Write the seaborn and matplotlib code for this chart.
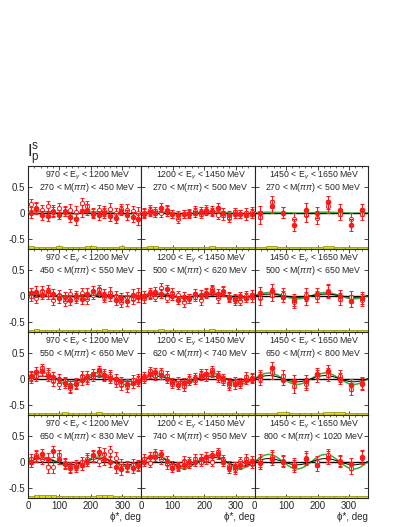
import numpy as np
import pandas as pd
import matplotlib
matplotlib.use("Agg")
import matplotlib.pyplot as plt
from matplotlib.ticker import MultipleLocator
import seaborn as sns

# bin centres (deg)
phi20 = [9, 27, 45, 63, 81, 99, 117, 135, 153, 171, 189, 207, 225, 243, 261, 279, 297, 315, 333, 351]
phi10 = [18, 54, 90, 126, 162, 198, 234, 270, 306, 342]

e_bins = ["970 < E$_\\gamma$ < 1200 MeV", "1200 < E$_\\gamma$ < 1450 MeV", "1450 < E$_\\gamma$ < 1650 MeV"]
m_row1 = ["270 < M($\\pi\\pi$) < 450 MeV", "270 < M($\\pi\\pi$) < 500 MeV", "270 < M($\\pi\\pi$) < 500 MeV"]
m_row2 = ["450 < M($\\pi\\pi$) < 550 MeV", "500 < M($\\pi\\pi$) < 620 MeV", "500 < M($\\pi\\pi$) < 650 MeV"]
m_row3 = ["550 < M($\\pi\\pi$) < 650 MeV", "620 < M($\\pi\\pi$) < 740 MeV", "650 < M($\\pi\\pi$) < 800 MeV"]
m_row4 = ["650 < M($\\pi\\pi$) < 830 MeV", "740 < M($\\pi\\pi$) < 950 MeV", "800 < M($\\pi\\pi$) < 1020 MeV"]

# filled points (f), open points (o), stat errors (e), systematics (s)
f11 = [0.0, 0.08, -0.05, -0.06, 0.01, -0.04, 0.02, -0.08, -0.12, 0.03, 0.06, -0.02, -0.05, 0.0, -0.06, -0.1, 0.04, -0.04, -0.08, -0.12]
o11 = [0.16, 0.1, 0.05, 0.12, 0.04, 0.1, 0.03, 0.06, 0.02, 0.18, 0.12, 0.0, 0.06, 0.03, 0.08, 0.0, 0.07, 0.06, 0.03, 0.0]
e11 = [0.11, 0.1, 0.09, 0.1, 0.1, 0.09, 0.09, 0.1, 0.11, 0.11, 0.1, 0.09, 0.09, 0.1, 0.1, 0.1, 0.09, 0.1, 0.1, 0.11]
s11 = [0.05, 0.04, 0.03, 0.03, 0.04, 0.05, 0.03, 0.03, 0.03, 0.04, 0.05, 0.06, 0.04, 0.03, 0.03, 0.04, 0.05, 0.04, 0.03, 0.03]

f12 = [-0.02, 0.02, 0.0, 0.1, 0.03, -0.02, -0.04, -0.02, -0.03, 0.0, 0.02, 0.03, 0.04, 0.1, 0.0, -0.05, -0.03, -0.02, -0.05, -0.02]
o12 = [0.0, 0.05, 0.03, 0.0, 0.06, -0.02, -0.12, -0.02, 0.0, 0.04, -0.02, 0.06, 0.02, -0.04, -0.05, -0.1, 0.01, -0.03, 0.0, 0.02]
e12 = [0.09, 0.09, 0.08, 0.09, 0.09, 0.08, 0.08, 0.08, 0.08, 0.09, 0.09, 0.08, 0.08, 0.09, 0.09, 0.08, 0.08, 0.08, 0.09, 0.09]
s12 = [0.03, 0.05, 0.05, 0.03, 0.03, 0.03, 0.04, 0.03, 0.03, 0.03, 0.03, 0.03, 0.05, 0.03, 0.03, 0.03, 0.04, 0.03, 0.03, 0.03]

f13 = [0.0, 0.12, 0.0, -0.24, 0.06, 0.0, 0.2, 0.05, -0.24, 0.05]
o13 = [-0.09, 0.21, 0.0, -0.13, -0.05, -0.1, 0.12, -0.03, -0.13, -0.03]
e13 = [0.12, 0.12, 0.11, 0.12, 0.12, 0.11, 0.12, 0.11, 0.12, 0.12]
s13 = [0.03, 0.05, 0.04, 0.03, 0.03, 0.03, 0.05, 0.04, 0.03, 0.03]

f21 = [0.05, 0.08, 0.02, 0.1, 0.03, -0.05, -0.02, -0.08, 0.0, -0.06, 0.04, 0.1, 0.06, 0.02, 0.0, -0.08, -0.04, -0.1, 0.02, -0.03]
o21 = [0.0, -0.04, 0.1, 0.04, -0.08, 0.02, -0.1, 0.03, -0.05, 0.05, -0.06, 0.02, 0.12, -0.02, 0.06, 0.0, -0.12, -0.02, -0.06, 0.04]
e21 = [0.1, 0.1, 0.09, 0.1, 0.1, 0.09, 0.09, 0.1, 0.1, 0.1, 0.1, 0.09, 0.09, 0.1, 0.1, 0.1, 0.09, 0.1, 0.1, 0.1]
s21 = [0.03, 0.05, 0.03, 0.03, 0.04, 0.03, 0.03, 0.03, 0.03, 0.04, 0.03, 0.03, 0.03, 0.05, 0.03, 0.03, 0.03, 0.03, 0.04, 0.03]

f22 = [0.0, 0.05, 0.08, 0.04, 0.12, 0.0, -0.08, -0.02, -0.05, 0.03, 0.02, 0.06, 0.1, 0.04, 0.08, -0.02, -0.06, 0.0, -0.04, 0.02]
o22 = [-0.05, 0.02, -0.02, 0.15, -0.04, 0.06, 0.02, -0.12, -0.06, -0.02, -0.08, 0.04, 0.12, -0.05, 0.1, -0.04, -0.08, -0.1, 0.0, -0.03]
e22 = [0.09, 0.09, 0.09, 0.09, 0.09, 0.08, 0.08, 0.09, 0.09, 0.09, 0.09, 0.08, 0.08, 0.09, 0.09, 0.09, 0.09, 0.08, 0.09, 0.09]
s22 = [0.03, 0.03, 0.04, 0.05, 0.03, 0.03, 0.03, 0.03, 0.03, 0.03, 0.03, 0.04, 0.05, 0.03, 0.03, 0.03, 0.03, 0.03, 0.03, 0.03]

f23 = [0.05, 0.1, -0.02, -0.08, -0.05, 0.04, 0.08, 0.0, -0.1, -0.04]
o23 = [-0.05, 0.02, 0.04, -0.12, 0.02, -0.02, 0.1, -0.06, -0.02, -0.08]
e23 = [0.12, 0.12, 0.11, 0.12, 0.12, 0.11, 0.12, 0.11, 0.12, 0.12]
s23 = [0.03, 0.03, 0.03, 0.03, 0.03, 0.03, 0.03, 0.03, 0.03, 0.03]

f31 = [0.05, 0.12, 0.15, 0.06, 0.03, 0.0, -0.08, -0.15, -0.1, -0.02, 0.04, 0.1, 0.16, 0.08, 0.02, 0.0, -0.05, -0.1, -0.08, -0.04]
o31 = [0.02, 0.06, 0.2, 0.1, -0.04, -0.1, -0.05, -0.18, -0.08, 0.05, 0.0, 0.04, 0.12, 0.05, 0.06, -0.06, -0.12, -0.15, -0.02, 0.0]
e31 = [0.1, 0.1, 0.09, 0.1, 0.1, 0.09, 0.09, 0.1, 0.1, 0.1, 0.1, 0.09, 0.09, 0.1, 0.1, 0.1, 0.09, 0.1, 0.1, 0.1]
s31 = [0.03, 0.03, 0.03, 0.03, 0.03, 0.03, 0.05, 0.03, 0.03, 0.03, 0.03, 0.03, 0.05, 0.03, 0.03, 0.03, 0.03, 0.03, 0.03, 0.03]

f32 = [0.04, 0.1, 0.12, 0.08, 0.0, -0.06, -0.12, -0.08, -0.04, 0.02, 0.06, 0.1, 0.12, 0.06, 0.0, -0.08, -0.1, -0.06, -0.02, 0.02]
o32 = [0.0, 0.14, 0.06, 0.12, 0.06, -0.1, -0.04, -0.14, 0.0, -0.02, 0.1, 0.04, 0.16, 0.02, -0.04, -0.12, -0.06, -0.1, 0.04, 0.0]
e32 = [0.09, 0.09, 0.09, 0.09, 0.09, 0.08, 0.08, 0.09, 0.09, 0.09, 0.09, 0.08, 0.08, 0.09, 0.09, 0.09, 0.09, 0.08, 0.09, 0.09]
s32 = [0.03, 0.03, 0.03, 0.03, 0.03, 0.03, 0.03, 0.03, 0.03, 0.03, 0.03, 0.03, 0.03, 0.03, 0.03, 0.03, 0.03, 0.03, 0.03, 0.03]

f33 = [0.05, 0.2, -0.02, -0.05, -0.05, 0.1, 0.15, 0.0, -0.12, -0.1]
o33 = [0.0, 0.12, 0.06, -0.15, -0.1, 0.05, 0.08, 0.05, -0.2, -0.08]
e33 = [0.12, 0.12, 0.11, 0.12, 0.12, 0.11, 0.12, 0.11, 0.12, 0.12]
s33 = [0.03, 0.03, 0.05, 0.03, 0.03, 0.03, 0.05, 0.05, 0.03, 0.03]

f41 = [0.0, 0.1, 0.15, 0.05, 0.2, 0.06, -0.05, -0.12, -0.1, -0.06, 0.02, 0.12, 0.18, 0.05, 0.0, -0.1, -0.15, -0.08, -0.12, -0.06]
o41 = [0.05, 0.12, 0.06, -0.1, -0.1, 0.12, -0.02, -0.1, -0.06, 0.0, 0.06, 0.1, 0.02, 0.15, 0.2, 0.08, -0.04, -0.1, -0.05, -0.08]
e41 = [0.1, 0.1, 0.1, 0.11, 0.11, 0.11, 0.1, 0.1, 0.1, 0.1, 0.1, 0.1, 0.1, 0.11, 0.11, 0.11, 0.1, 0.1, 0.1, 0.1]
s41 = [0.04, 0.05, 0.05, 0.06, 0.05, 0.03, 0.03, 0.03, 0.03, 0.03, 0.03, 0.03, 0.05, 0.06, 0.05, 0.03, 0.03, 0.03, 0.03, 0.03]

f42 = [0.0, 0.1, 0.1, 0.14, 0.02, -0.12, -0.08, -0.06, 0.0, 0.0, 0.05, 0.1, 0.12, 0.14, 0.0, -0.12, -0.1, -0.06, 0.0, 0.02]
o42 = [0.05, -0.02, 0.16, 0.05, -0.05, -0.06, -0.1, 0.02, -0.04, 0.06, 0.0, 0.04, 0.0, 0.18, 0.04, -0.08, -0.14, 0.02, 0.06, -0.04]
e42 = [0.09, 0.09, 0.09, 0.09, 0.09, 0.08, 0.08, 0.09, 0.09, 0.09, 0.09, 0.08, 0.08, 0.09, 0.09, 0.09, 0.09, 0.08, 0.09, 0.09]
s42 = [0.03, 0.03, 0.03, 0.03, 0.03, 0.03, 0.03, 0.03, 0.03, 0.03, 0.03, 0.03, 0.03, 0.03, 0.03, 0.03, 0.03, 0.03, 0.03, 0.03]

f43 = [-0.02, 0.06, 0.0, -0.08, 0.05, -0.06, 0.08, 0.0, -0.04, 0.1]
o43 = [0.02, 0.1, 0.02, -0.04, 0.08, 0.0, 0.12, 0.02, -0.12, 0.08]
e43 = [0.12, 0.12, 0.11, 0.12, 0.12, 0.11, 0.12, 0.11, 0.12, 0.12]
s43 = [0.03, 0.03, 0.03, 0.03, 0.03, 0.03, 0.03, 0.03, 0.03, 0.03]

# fitted sin(2 phi*) amplitudes per panel: model (green), fit (black)
green_amp = [0.02, 0.02, 0.01, 0.03, 0.05, 0.06, 0.12, 0.10, 0.11, 0.09, 0.13, 0.14]
black_amp = [0.0, 0.0, 0.0, 0.01, 0.02, 0.03, 0.05, 0.05, 0.06, 0.06, 0.09, 0.06]

filled = [f11, f12, f13, f21, f22, f23, f31, f32, f33, f41, f42, f43]
opened = [o11, o12, o13, o21, o22, o23, o31, o32, o33, o41, o42, o43]
errs = [e11, e12, e13, e21, e22, e23, e31, e32, e33, e41, e42, e43]
syst = [s11, s12, s13, s21, s22, s23, s31, s32, s33, s41, s42, s43]
m_bins = m_row1 + m_row2 + m_row3 + m_row4

sns.set_style("ticks")
plt.rcParams['font.family'] = ['Liberation Sans', 'DejaVu Sans']
plt.rcParams['axes.unicode_minus'] = False
plt.rcParams['mathtext.fontset'] = 'custom'
plt.rcParams['mathtext.rm'] = 'Liberation Sans'
plt.rcParams['mathtext.it'] = 'Liberation Sans:italic'

fig, axes = plt.subplots(4, 3, figsize=(4.07, 5.27), dpi=100, sharex=True, sharey=True)
fig.subplots_adjust(left=0.0688, right=0.904, top=0.685, bottom=0.055, wspace=0, hspace=0)

red = '#ff1a1a'
phi_fine = np.linspace(0, 360, 361)

for k, ax in enumerate(axes.flat):
    row, col = divmod(k, 3)
    phi = phi10 if col == 2 else phi20
    width = 36 if col == 2 else 18

    ax.bar(phi, syst[k], width=width, bottom=-0.7, color='#dede00',
           edgecolor='#8a8a00', linewidth=0.5, zorder=1)
    ax.axhline(0, color='black', lw=1.0, zorder=2)
    curves = pd.DataFrame({'phi': phi_fine,
                           'green': green_amp[k] * np.sin(np.radians(2 * phi_fine)),
                           'black': black_amp[k] * np.sin(np.radians(2 * phi_fine))})
    sns.lineplot(data=curves, x='phi', y='green', ax=ax, color='#33b233', lw=1.1, zorder=3)
    sns.lineplot(data=curves, x='phi', y='black', ax=ax, color='black', lw=0.7, zorder=3)

    ax.errorbar(phi, opened[k], yerr=errs[k], fmt='o', ms=3.0, mfc='white', mec=red,
                mew=0.7, ecolor=red, elinewidth=0.8, capsize=1.2, capthick=0.8, zorder=4)
    ax.errorbar(phi, filled[k], yerr=errs[k], fmt='o', ms=3.0, color=red,
                ecolor=red, elinewidth=0.8, capsize=1.2, capthick=0.8, zorder=5)

    ax.text(0.53, 0.875, e_bins[col], transform=ax.transAxes, ha='center', va='center', fontsize=6.3)
    ax.text(0.52, 0.74, m_bins[k], transform=ax.transAxes, ha='center', va='center', fontsize=6.3)

    ax.set_xlim(0, 360)
    ax.set_ylim(-0.7, 0.9)
    ax.set_xticks([0, 100, 200, 300])
    ax.xaxis.set_minor_locator(MultipleLocator(20))
    ax.set_yticks([-0.5, 0, 0.5])
    ax.set_xticklabels(['0', '100', '200', '300'])
    ax.set_yticklabels(['-0.5', '0', '0.5'])
    ax.tick_params(direction='in', top=True, right=True, length=3, width=0.6, labelsize=7, pad=2)
    ax.tick_params(which='minor', direction='in', top=True, length=1.5, width=0.5)
    for sp in ax.spines.values():
        sp.set_linewidth(0.8)
    ax.set_xlabel('')
    ax.set_ylabel('')
    if row == 3:
        ax.set_xlabel('ϕ*, deg', loc='right', fontsize=7, labelpad=1)

fig.text(27 / 407, 1 - 168 / 527, r'$\mathrm{I}_\mathrm{p}^\mathrm{s}$', fontsize=12, ha='left', va='bottom')

fig.savefig('out.png', dpi=100)
